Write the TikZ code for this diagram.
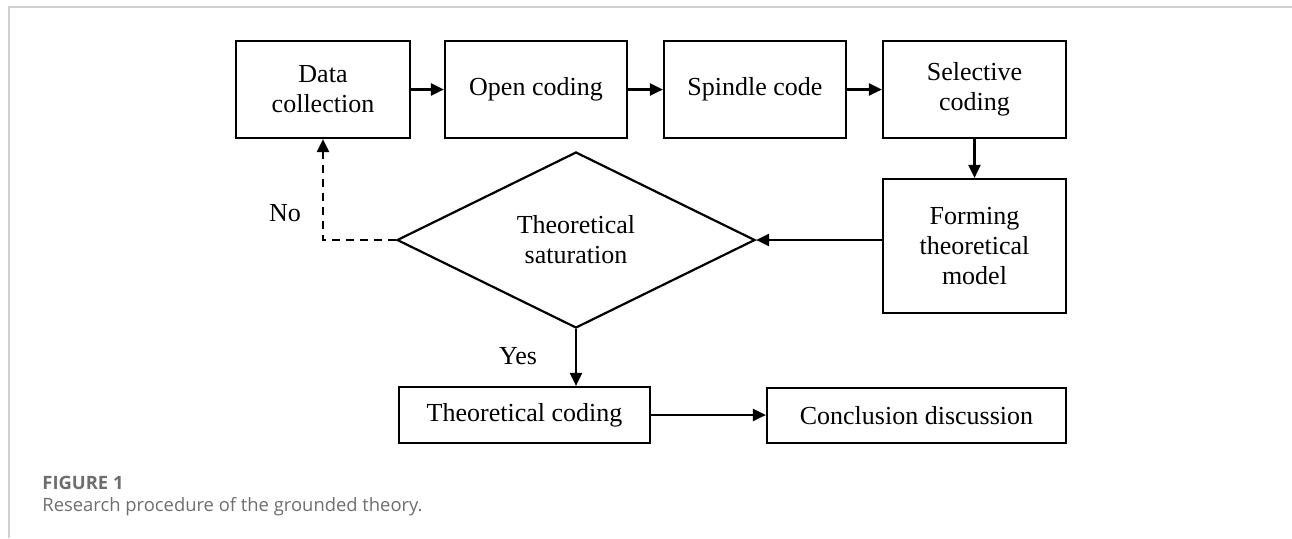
\documentclass[tikz,border=0pt]{standalone}
\usepackage{fontspec}
\setmainfont{Liberation Serif}
\newfontfamily\capfont{Open Sans}
\usepackage{xcolor}
\usetikzlibrary{shapes.geometric,arrows.meta}
\definecolor{capgray}{HTML}{6E6E6E}
\definecolor{framegray}{HTML}{D0D0D0}

\begin{document}
\begin{tikzpicture}[x=0.5pt,y=-0.5pt,
  box/.style={draw,line width=1.1pt,align=center,inner sep=0pt,
    font=\fontsize{13pt}{15pt}\selectfont},
  arr/.style={line width=1.1pt,-{Triangle[length=6.5pt,width=6pt]}}]
  \useasboundingbox (0,0) rectangle (1292,538);
  \draw[framegray,line width=0.6pt] (9,538) -- (9,7) -- (1292,7);
  % top row
  \node[box,minimum width=87pt,minimum height=48.5pt] (data) at (323,89.5) {Data\\collection};
  \node[box,minimum width=91pt,minimum height=48.5pt] (open) at (536,89.5) {Open coding};
  \node[box,minimum width=91pt,minimum height=48.5pt] (spin) at (755,89.5) {Spindle code};
  \node[box,minimum width=91.5pt,minimum height=48.5pt] (sel) at (974.5,89.5) {Selective\\coding};
  \node[box,minimum width=91.5pt,minimum height=67pt] (form) at (974.5,246) {Forming\\theoretical\\model};
  \node[box,shape=diamond,aspect=2,minimum width=179pt,minimum height=88pt] (dia) at (576,240) {Theoretical\\saturation};
  \node[box,minimum width=125.5pt,minimum height=28pt] (tcod) at (524.5,415) {Theoretical coding};
  \node[box,minimum width=149.5pt,minimum height=27.5pt] (concl) at (916.5,415.5) {Conclusion discussion};
  \foreach \a/\b in {data/open,open/spin,spin/sel} {
    \draw[arr] (\a) -- (\b);
  }
  \draw[arr] (sel) -- (form);
  \draw[arr] (form.west |- dia.east) -- (dia.east);
  \draw[arr] (dia.south) -- (dia.south |- tcod.north);
  \draw[arr] (tcod.east) -- (tcod.east -| concl.west);
  \draw[arr,dash pattern=on 4pt off 3pt] (dia.west) -| (data.south);
  \node[font=\fontsize{13pt}{15pt}\selectfont] (no) at (285,213) {No};
  \node[font=\fontsize{13pt}{15pt}\selectfont] (yes) at (518,356) {Yes};
  % caption
  \node[anchor=west,inner sep=0pt,text=capgray,font=\capfont\bfseries\fontsize{9.2pt}{11pt}\selectfont] (fig) at (42,483) {FIGURE 1};
  \node[anchor=west,inner sep=0pt,text=capgray,font=\capfont\fontsize{9.2pt}{11pt}\selectfont] (cap) at (42,507) {Research procedure of the grounded theory.};
\end{tikzpicture}
\end{document}
